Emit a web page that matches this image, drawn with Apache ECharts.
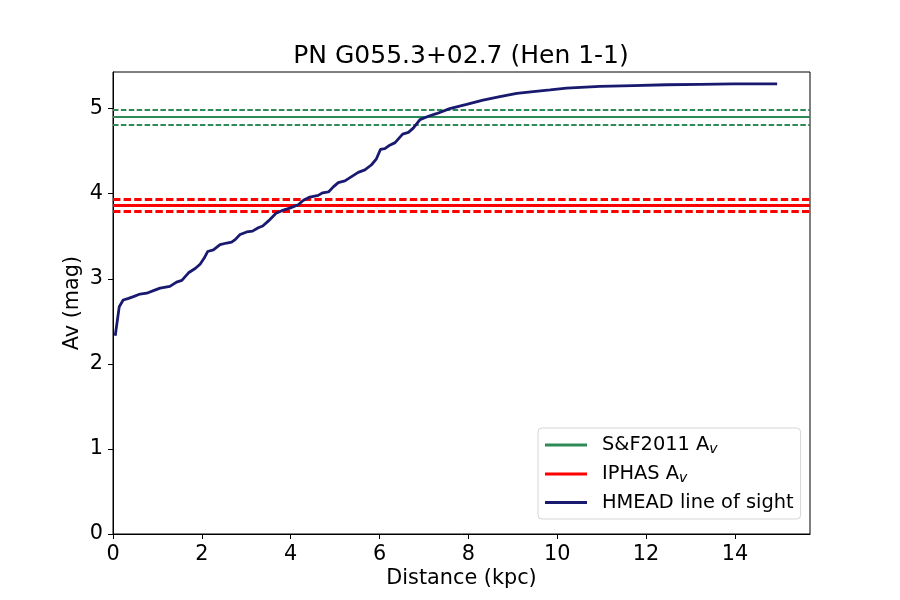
<!DOCTYPE html>
<html>
<head>
<meta charset="utf-8">
<script src="https://cdn.jsdelivr.net/npm/echarts@6/dist/echarts.min.js"></script>
<style>
  html, body { margin: 0; padding: 0; background: #fff; }
  #main { width: 900px; height: 600px; }
</style>
</head>
<body>
<div id="main"></div>
<script>
// HMEAD line of sight (distance in kpc, Av in mag)
const dist = [0.05, 0.14, 0.23, 0.35, 0.46, 0.61, 0.76, 0.91, 1.06, 1.28,
    1.43, 1.55, 1.70, 1.85, 1.96, 2.05, 2.13, 2.26, 2.41, 2.56,
    2.67, 2.75, 2.86, 3.01, 3.14, 3.27, 3.37, 3.50, 3.67, 3.80,
    3.98, 4.17, 4.28, 4.43, 4.62, 4.72, 4.85, 4.96, 5.07, 5.22,
    5.37, 5.52, 5.67, 5.82, 5.93, 6.02, 6.12, 6.23, 6.35, 6.52,
    6.65, 6.76, 6.91, 7.10, 7.28, 7.58, 7.96, 8.33, 8.71, 9.09,
    9.46, 9.84, 10.21, 10.96, 11.71, 12.46, 13.21, 13.96, 14.95];
const av = [2.33, 2.67, 2.75, 2.77, 2.79, 2.82, 2.83, 2.86, 2.89, 2.91,
    2.96, 2.98, 3.07, 3.12, 3.17, 3.24, 3.32, 3.34, 3.40, 3.42,
    3.43, 3.46, 3.52, 3.55, 3.56, 3.60, 3.62, 3.68, 3.77, 3.80,
    3.83, 3.87, 3.92, 3.96, 3.98, 4.01, 4.02, 4.08, 4.13, 4.15,
    4.20, 4.25, 4.28, 4.34, 4.41, 4.52, 4.53, 4.57, 4.60, 4.70,
    4.72, 4.77, 4.87, 4.91, 4.94, 5.00, 5.05, 5.10, 5.14, 5.18,
    5.20, 5.22, 5.24, 5.26, 5.27, 5.28, 5.285, 5.29, 5.29];

// constant extinction values: [value, error]
const sf2011 = [4.90, 0.09];
const iphas = [3.86, 0.07];

const seriesNames = ['S&F2011 Av', 'IPHAS Av', 'HMEAD line of sight'];
const xMax = 15.69;
const yMax = 5.43;

const font = 'DejaVu Sans';

function hLines(v, width, dash, color) {
    return [
        { yAxis: v[0], lineStyle: { type: 'solid', width: width, color: color } },
        { yAxis: v[0] + v[1], lineStyle: { type: dash, width: width, color: color } },
        { yAxis: v[0] - v[1], lineStyle: { type: dash, width: width, color: color } }
    ];
}

var chart = echarts.init(document.getElementById('main'), null, { renderer: 'canvas' });

var option = {
    animation: false,
    backgroundColor: '#fff',
    title: {
        text: 'PN G055.3+02.7 (Hen 1-1)',
        left: 461,
        top: 44,
        textAlign: 'center',
        padding: 0,
        textStyle: { fontFamily: font, fontSize: 25, fontWeight: 'normal', color: '#000' }
    },
    grid: {
        left: 113, right: 90, top: 72, bottom: 66,
        show: true, borderColor: '#000', borderWidth: 1
    },
    legend: {
        orient: 'vertical',
        left: 538,
        top: 428,
        padding: [7, 7, 7, 7],
        itemGap: 8,
        itemWidth: 42,
        itemHeight: 3,
        icon: 'rect',
        backgroundColor: 'rgba(255,255,255,0.8)',
        borderColor: '#d5d5d5',
        borderWidth: 1,
        borderRadius: 4,
        data: seriesNames,
        formatter: function (name) {
            if (name === 'S&F2011 Av') return '{t|S&F2011 A}{s|v}';
            if (name === 'IPHAS Av') return '{t|IPHAS A}{s|v}';
            return '{t|' + name + '}';
        },
        textStyle: {
            fontFamily: font,
            color: '#000',
            rich: {
                t: { fontFamily: font, fontSize: 19.4, lineHeight: 22, padding: [0, 0, 0, 10], color: '#000' },
                s: { fontFamily: font, fontSize: 14, fontStyle: 'italic', lineHeight: 22, verticalAlign: 'bottom', padding: [7, 0, 0, 0], color: '#000' }
            }
        }
    },
    xAxis: {
        type: 'value',
        min: 0,
        max: xMax,
        interval: 2,
        name: 'Distance (kpc)',
        nameLocation: 'middle',
        nameGap: 34,
        nameMoveOverlap: false,
        nameTextStyle: { fontFamily: font, fontSize: 20.8, color: '#000' },
        splitLine: { show: false },
        axisLine: { show: true, lineStyle: { color: '#000', width: 1 } },
        axisTick: { show: true, length: 5, lineStyle: { color: '#000' } },
        axisLabel: { fontFamily: font, fontSize: 20.8, color: '#000', margin: 10, showMaxLabel: false }
    },
    yAxis: {
        type: 'value',
        min: 0,
        max: yMax,
        interval: 1,
        name: 'Av (mag)',
        nameLocation: 'middle',
        nameGap: 30,
        nameMoveOverlap: false,
        nameTextStyle: { fontFamily: font, fontSize: 20.8, color: '#000' },
        splitLine: { show: false },
        axisLine: { show: true, lineStyle: { color: '#000', width: 1 } },
        axisTick: { show: true, length: 5, lineStyle: { color: '#000' } },
        axisLabel: { fontFamily: font, fontSize: 20.8, color: '#000', margin: 10, showMaxLabel: false }
    },
    series: [
        {
            name: seriesNames[0],
            type: 'line',
            data: [],
            color: '#2e8b57',
            lineStyle: { color: '#2e8b57', width: 2 },
            markLine: {
                silent: true,
                symbol: 'none',
                label: { show: false },
                data: hLines(sf2011, 2, [5.5, 2.4], '#2e8b57')
            }
        },
        {
            name: seriesNames[1],
            type: 'line',
            data: [],
            color: '#ff0000',
            lineStyle: { color: '#ff0000', width: 2.8 },
            markLine: {
                silent: true,
                symbol: 'none',
                label: { show: false },
                data: hLines(iphas, 2.8, [7.4, 3.2], '#ff0000')
            }
        },
        {
            name: seriesNames[2],
            type: 'line',
            data: dist.map((d, i) => [d, av[i]]),
            color: '#191970',
            showSymbol: false,
            symbol: 'none',
            lineStyle: { color: '#191970', width: 2.8 },
            z: 5
        }
    ]
};

chart.setOption(option);
</script>
</body>
</html>
